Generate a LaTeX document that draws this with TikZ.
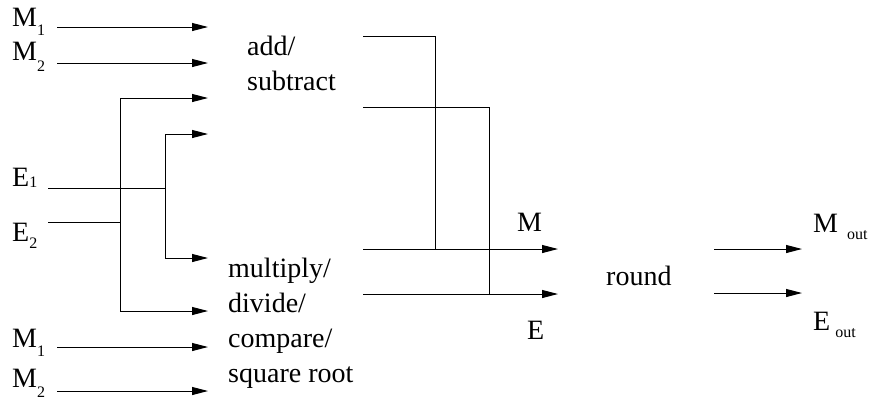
\documentclass[tikz,border=0pt]{standalone}
\usepackage{fontspec}
\setmainfont{Liberation Serif}
\usetikzlibrary{arrows.meta}
\newcommand{\subtxt}[2][0.33em]{\raisebox{-#1}{\fontsize{16bp}{16bp}\selectfont #2}}
\tikzset{
  txt/.style={inner sep=0pt, anchor=base west, font=\fontsize{28bp}{35bp}\selectfont},
  wire/.style={line width=1bp},
  sig/.style={wire, -{Triangle[length=16bp,width=8bp]}},
}
\begin{document}
\begin{tikzpicture}[x=1bp, y=-1bp]
        \useasboundingbox (0,0) rectangle (874,403);
        % Labels (top to bottom)
        \node[txt] (m1_t) at (12,26) {M\subtxt{1}};
        \node[txt] (m2_t) at (12,60) {M\subtxt[0.4em]{2}};
        \node[txt] (e1) at (12,186) {E\subtxt[0.05em]{1}};
        \node[txt] (e2) at (12,241) {E\subtxt[0.26em]{2}};
        \node[txt] (m1_b) at (12,347) {M\subtxt{1}};
        \node[txt] (m2_b) at (12,387) {M\subtxt[0.38em]{2}};
        % Units (base = last line)
        \node[txt, align=left] (addsub) at (247,90) {add/\\subtract};
        \node[txt, align=left] (muldiv) at (228,382) {multiply/\\divide/\\compare/\\square root};
        \node[txt] (rnd) at (606,285) {round};
        \node[txt] (m_lbl) at (517,231) {M};
        \node[txt] (e_lbl) at (527,339) {E};
        \node[txt] (m_out) at (813,232) {M\hspace{0.32em}\subtxt[0.26em]{out}};
        \node[txt] (e_out) at (813,330) {E\hspace{0.18em}\subtxt[0.26em]{out}};
        % Mantissa inputs
        \foreach \y [count=\i] in {27,63,347,391} {
          \coordinate (in\i) at (57,\y);
          \coordinate (tip\i) at (208,\y);
          \draw[sig] (in\i) -- (tip\i);
        }
        % Exponent inputs
        \coordinate (e1_s) at (48,188);
        \coordinate (e1_j) at (165,188);
        \coordinate (e2_s) at (48,222);
        \coordinate (e2_j) at (120,222);
        \coordinate (add_e1) at (208,134);
        \coordinate (add_e2) at (208,98);
        \coordinate (mul_e1) at (208,258);
        \coordinate (mul_e2) at (208,311);
        \draw[wire] (e1_s) -- (e1_j);
        \draw[wire] (e2_s) -- (e2_j);
        \draw[sig] (e1_j) |- (add_e1);
        \draw[sig] (e1_j) |- (mul_e1);
        \draw[sig] (e2_j) |- (add_e2);
        \draw[sig] (e2_j) |- (mul_e2);
        % Unit outputs
        \coordinate (add_m) at (363,36);
        \coordinate (add_x) at (363,107);
        \coordinate (mul_m) at (363,249);
        \coordinate (mul_x) at (363,294);
        \coordinate (m_j) at (435,249);
        \coordinate (e_j) at (489,294);
        \coordinate (m_tip) at (558,249);
        \coordinate (e_tip) at (558,294);
        \draw[wire] (add_m) -| (m_j);
        \draw[wire] (add_x) -| (e_j);
        \draw[sig] (mul_m) -- (m_tip);
        \draw[sig] (mul_x) -- (e_tip);
        % Round outputs
        \coordinate (rm_s) at (714,249);
        \coordinate (rm_t) at (802,249);
        \coordinate (re_s) at (714,293);
        \coordinate (re_t) at (802,293);
        \draw[sig] (rm_s) -- (rm_t);
        \draw[sig] (re_s) -- (re_t);
      \end{tikzpicture}
\end{document}
